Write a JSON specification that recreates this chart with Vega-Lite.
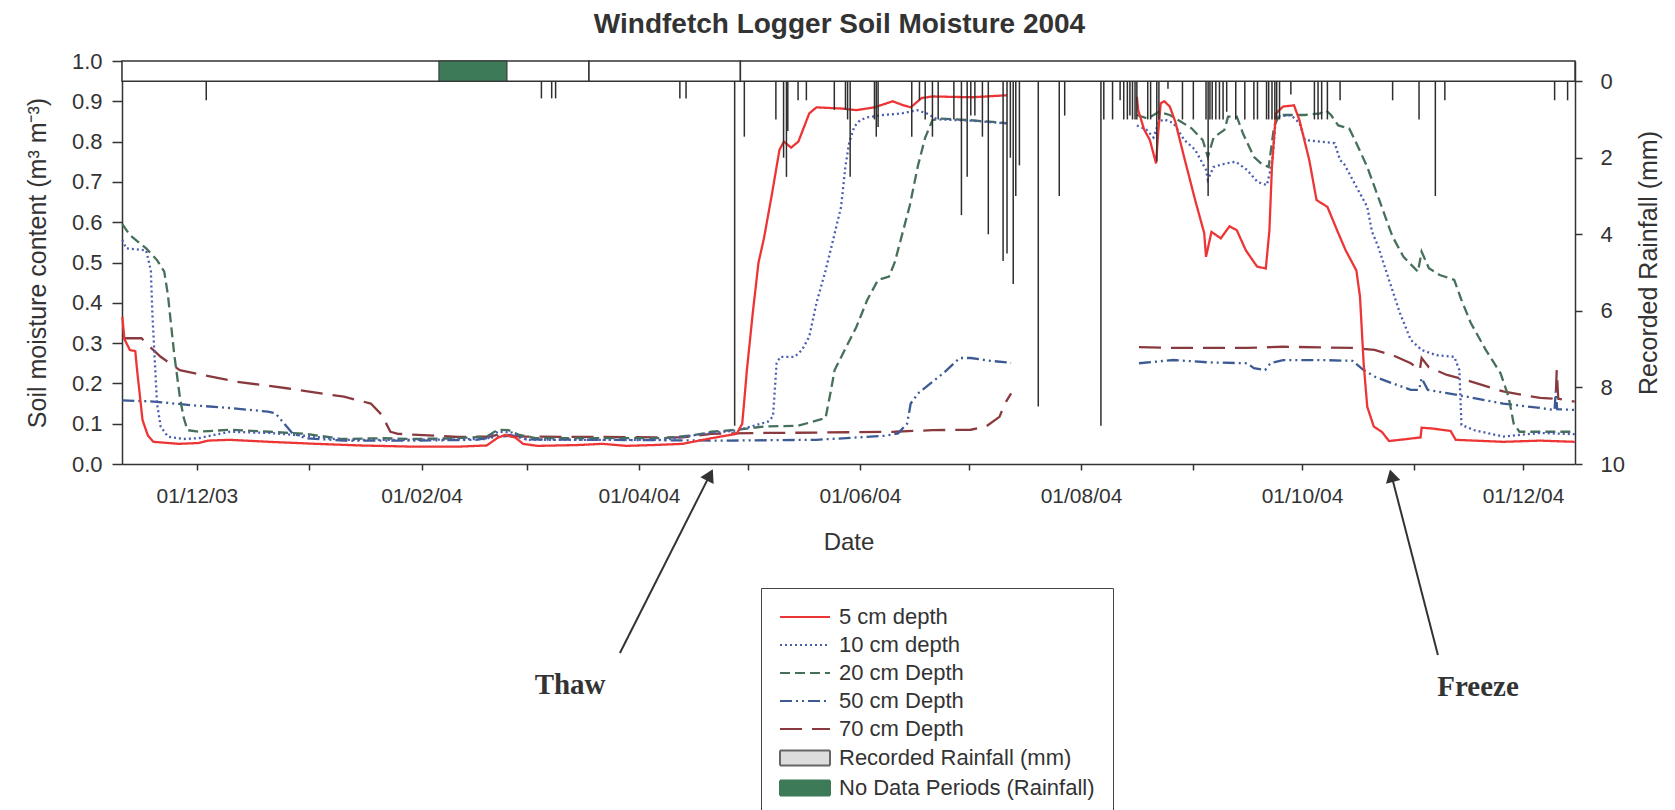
{
"$schema":"https://vega.github.io/schema/vega-lite/v6.json",
"width":1453,"height":403,
"autosize":{"type":"none"},
"padding":{"left":122,"top":61,"right":100,"bottom":346},
"background":"white",
"title":{"text":"Windfetch Logger Soil Moisture 2004","font":"Liberation Sans","fontSize":28,"fontWeight":"bold","color":"#333333","anchor":"middle","frame":"group","offset":11,"dx":-9},
"config":{"view":{"stroke":null},"axis":{"grid":false,"labelFont":"Liberation Sans","titleFont":"Liberation Sans","labelFontSize":22,"titleFontSize":25,"titleFontWeight":"normal","labelColor":"#333333","titleColor":"#333333","domainColor":"#333333","tickColor":"#333333","domainWidth":1.5,"tickWidth":1.5}},
"datasets":{
"strip":[{"start":"2003-11-10T08:00","end":"2004-03-18T05:00"},{"start":"2004-03-18T05:00","end":"2004-04-29T00:00"},{"start":"2004-04-29T00:00","end":"2004-12-15T08:00"}],
"nodata":[{"start":"2004-02-05T19:00","end":"2004-02-24T14:00"}],
"notes":[{"label":"Thaw","t0":"2004-03-26T18:00","v0":-0.469,"t1":"2004-04-20T14:00","v1":-0.027,"tt":"2004-03-13T00:00","tv":-0.548},{"label":"Freeze","t0":"2004-11-07T12:00","v0":-0.474,"t1":"2004-10-25T17:00","v1":-0.029,"tt":"2004-11-18T14:00","tv":-0.553}],
"rain":[
{"time":"2003-12-03T14:00","rain":0.5},{"time":"2004-03-05T02:00","rain":0.45},{"time":"2004-03-07T22:00","rain":0.45},{"time":"2004-03-09T00:00","rain":0.45},{"time":"2004-04-12T07:00","rain":0.45},{"time":"2004-04-14T00:00","rain":0.45},{"time":"2004-04-27T10:00","rain":9.0},{"time":"2004-04-30T02:00","rain":1.45},{"time":"2004-05-08T19:00","rain":1.0},{"time":"2004-05-10T22:00","rain":2.0},{"time":"2004-05-11T17:00","rain":2.5},{"time":"2004-05-12T02:00","rain":1.3},{"time":"2004-05-14T22:00","rain":0.5},{"time":"2004-05-17T05:00","rain":0.5},{"time":"2004-05-24T22:00","rain":0.75},{"time":"2004-05-28T00:00","rain":0.75},{"time":"2004-05-28T14:00","rain":1.0},{"time":"2004-05-29T07:00","rain":2.5},{"time":"2004-06-05T00:00","rain":1.0},{"time":"2004-06-05T12:00","rain":1.45},{"time":"2004-06-06T00:00","rain":1.2},{"time":"2004-06-15T07:00","rain":1.45},{"time":"2004-06-17T10:00","rain":0.5},{"time":"2004-06-19T00:00","rain":1.0},{"time":"2004-06-21T00:00","rain":1.45},{"time":"2004-06-22T14:00","rain":1.0},{"time":"2004-06-26T22:00","rain":1.0},{"time":"2004-06-29T00:00","rain":3.5},{"time":"2004-06-30T14:00","rain":2.5},{"time":"2004-07-01T14:00","rain":0.9},{"time":"2004-07-02T17:00","rain":0.9},{"time":"2004-07-04T19:00","rain":1.45},{"time":"2004-07-06T10:00","rain":4.0},{"time":"2004-07-10T12:00","rain":4.7},{"time":"2004-07-11T14:00","rain":4.5},{"time":"2004-07-12T12:00","rain":2.0},{"time":"2004-07-13T07:00","rain":5.3},{"time":"2004-07-14T00:00","rain":3.0},{"time":"2004-07-15T00:00","rain":2.2},{"time":"2004-07-20T05:00","rain":8.5},{"time":"2004-07-26T00:00","rain":3.0},{"time":"2004-07-27T12:00","rain":0.9},{"time":"2004-08-06T12:00","rain":9.0},{"time":"2004-08-07T07:00","rain":1.0},{"time":"2004-08-09T17:00","rain":1.0},{"time":"2004-08-11T19:00","rain":0.5},{"time":"2004-08-12T19:00","rain":1.0},{"time":"2004-08-13T19:00","rain":1.0},{"time":"2004-08-14T12:00","rain":0.9},{"time":"2004-08-15T05:00","rain":1.0},{"time":"2004-08-15T22:00","rain":1.0},{"time":"2004-08-16T10:00","rain":1.0},{"time":"2004-08-19T10:00","rain":1.0},{"time":"2004-08-20T05:00","rain":1.0},{"time":"2004-08-21T22:00","rain":2.1},{"time":"2004-08-22T12:00","rain":1.0},{"time":"2004-08-25T00:00","rain":0.2},{"time":"2004-08-29T00:00","rain":1.0},{"time":"2004-09-01T00:00","rain":1.0},{"time":"2004-09-04T12:00","rain":1.0},{"time":"2004-09-05T02:00","rain":3.0},{"time":"2004-09-05T14:00","rain":1.0},{"time":"2004-09-06T05:00","rain":1.0},{"time":"2004-09-07T05:00","rain":1.0},{"time":"2004-09-08T05:00","rain":1.0},{"time":"2004-09-09T05:00","rain":1.0},{"time":"2004-09-10T05:00","rain":0.8},{"time":"2004-09-12T17:00","rain":1.0},{"time":"2004-09-15T05:00","rain":1.0},{"time":"2004-09-17T17:00","rain":1.0},{"time":"2004-09-18T17:00","rain":1.0},{"time":"2004-09-21T05:00","rain":1.0},{"time":"2004-09-21T19:00","rain":1.0},{"time":"2004-09-22T17:00","rain":1.0},{"time":"2004-09-23T12:00","rain":1.0},{"time":"2004-09-24T00:00","rain":1.0},{"time":"2004-09-24T19:00","rain":1.0},{"time":"2004-09-27T22:00","rain":0.35},{"time":"2004-10-04T10:00","rain":1.0},{"time":"2004-10-05T10:00","rain":1.0},{"time":"2004-10-06T10:00","rain":1.0},{"time":"2004-10-08T00:00","rain":1.0},{"time":"2004-10-11T12:00","rain":0.5},{"time":"2004-10-26T00:00","rain":0.5},{"time":"2004-11-02T07:00","rain":1.0},{"time":"2004-11-06T19:00","rain":3.0},{"time":"2004-11-09T10:00","rain":0.5},{"time":"2004-12-09T17:00","rain":0.5},{"time":"2004-12-13T07:00","rain":0.5}],
"soil":[
{"depth":"70 cm Depth","seg":1,"time":"2003-11-10T10:00","moisture":0.312},{"depth":"70 cm Depth","seg":1,"time":"2003-11-15T17:00","moisture":0.312},{"depth":"70 cm Depth","seg":1,"time":"2003-11-18T00:00","moisture":0.291},{"depth":"70 cm Depth","seg":1,"time":"2003-11-21T00:00","moisture":0.266},{"depth":"70 cm Depth","seg":1,"time":"2003-11-26T07:00","moisture":0.233},{"depth":"70 cm Depth","seg":1,"time":"2003-12-02T14:00","moisture":0.221},{"depth":"70 cm Depth","seg":1,"time":"2003-12-12T00:00","moisture":0.204},{"depth":"70 cm Depth","seg":1,"time":"2003-12-25T19:00","moisture":0.188},{"depth":"70 cm Depth","seg":1,"time":"2004-01-10T14:00","moisture":0.167},{"depth":"70 cm Depth","seg":1,"time":"2004-01-18T00:00","moisture":0.15},{"depth":"70 cm Depth","seg":1,"time":"2004-01-21T00:00","moisture":0.122},{"depth":"70 cm Depth","seg":1,"time":"2004-01-23T10:00","moisture":0.08},{"depth":"70 cm Depth","seg":1,"time":"2004-01-25T12:00","moisture":0.075},{"depth":"70 cm Depth","seg":1,"time":"2004-02-11T00:00","moisture":0.067},{"depth":"70 cm Depth","seg":1,"time":"2004-02-20T00:00","moisture":0.068},{"depth":"70 cm Depth","seg":1,"time":"2004-02-23T00:00","moisture":0.075},{"depth":"70 cm Depth","seg":1,"time":"2004-02-28T00:00","moisture":0.068},{"depth":"70 cm Depth","seg":1,"time":"2004-03-21T00:00","moisture":0.067},{"depth":"70 cm Depth","seg":1,"time":"2004-04-13T00:00","moisture":0.066},{"depth":"70 cm Depth","seg":1,"time":"2004-04-21T00:00","moisture":0.075},{"depth":"70 cm Depth","seg":1,"time":"2004-05-05T12:00","moisture":0.077},{"depth":"70 cm Depth","seg":1,"time":"2004-05-20T00:00","moisture":0.078},{"depth":"70 cm Depth","seg":1,"time":"2004-06-10T12:00","moisture":0.08},{"depth":"70 cm Depth","seg":1,"time":"2004-06-21T00:00","moisture":0.084},{"depth":"70 cm Depth","seg":1,"time":"2004-07-01T14:00","moisture":0.085},{"depth":"70 cm Depth","seg":1,"time":"2004-07-05T19:00","moisture":0.093},{"depth":"70 cm Depth","seg":1,"time":"2004-07-09T12:00","moisture":0.117},{"depth":"70 cm Depth","seg":1,"time":"2004-07-11T00:00","moisture":0.15},{"depth":"70 cm Depth","seg":1,"time":"2004-07-12T17:00","moisture":0.175},
{"depth":"70 cm Depth","seg":2,"time":"2004-08-17T00:00","moisture":0.29},{"depth":"70 cm Depth","seg":2,"time":"2004-08-26T12:00","moisture":0.288},{"depth":"70 cm Depth","seg":2,"time":"2004-09-15T19:00","moisture":0.288},{"depth":"70 cm Depth","seg":2,"time":"2004-09-25T19:00","moisture":0.291},{"depth":"70 cm Depth","seg":2,"time":"2004-10-14T22:00","moisture":0.288},{"depth":"70 cm Depth","seg":2,"time":"2004-10-21T00:00","moisture":0.283},{"depth":"70 cm Depth","seg":2,"time":"2004-10-26T00:00","moisture":0.27},{"depth":"70 cm Depth","seg":2,"time":"2004-10-31T00:00","moisture":0.25},{"depth":"70 cm Depth","seg":2,"time":"2004-11-02T12:00","moisture":0.233},{"depth":"70 cm Depth","seg":2,"time":"2004-11-03T00:00","moisture":0.263},{"depth":"70 cm Depth","seg":2,"time":"2004-11-05T00:00","moisture":0.24},{"depth":"70 cm Depth","seg":2,"time":"2004-11-10T00:00","moisture":0.221},{"depth":"70 cm Depth","seg":2,"time":"2004-11-15T10:00","moisture":0.208},{"depth":"70 cm Depth","seg":2,"time":"2004-11-25T12:00","moisture":0.18},{"depth":"70 cm Depth","seg":2,"time":"2004-12-05T17:00","moisture":0.164},{"depth":"70 cm Depth","seg":2,"time":"2004-12-10T00:00","moisture":0.162},{"depth":"70 cm Depth","seg":2,"time":"2004-12-10T07:00","moisture":0.233},{"depth":"70 cm Depth","seg":2,"time":"2004-12-10T17:00","moisture":0.162},{"depth":"70 cm Depth","seg":2,"time":"2004-12-15T06:00","moisture":0.155},
{"depth":"50 cm Depth","seg":1,"time":"2003-11-10T10:00","moisture":0.158},{"depth":"50 cm Depth","seg":1,"time":"2003-11-19T00:00","moisture":0.155},{"depth":"50 cm Depth","seg":1,"time":"2003-11-29T10:00","moisture":0.146},{"depth":"50 cm Depth","seg":1,"time":"2003-12-10T00:00","moisture":0.139},{"depth":"50 cm Depth","seg":1,"time":"2003-12-20T14:00","moisture":0.13},{"depth":"50 cm Depth","seg":1,"time":"2003-12-22T17:00","moisture":0.126},{"depth":"50 cm Depth","seg":1,"time":"2003-12-25T00:00","moisture":0.101},{"depth":"50 cm Depth","seg":1,"time":"2003-12-27T10:00","moisture":0.076},{"depth":"50 cm Depth","seg":1,"time":"2003-12-31T00:00","moisture":0.064},{"depth":"50 cm Depth","seg":1,"time":"2004-01-10T14:00","moisture":0.058},{"depth":"50 cm Depth","seg":1,"time":"2004-01-31T00:00","moisture":0.058},{"depth":"50 cm Depth","seg":1,"time":"2004-02-16T00:00","moisture":0.06},{"depth":"50 cm Depth","seg":1,"time":"2004-02-22T00:00","moisture":0.068},{"depth":"50 cm Depth","seg":1,"time":"2004-02-26T00:00","moisture":0.07},{"depth":"50 cm Depth","seg":1,"time":"2004-03-01T00:00","moisture":0.061},{"depth":"50 cm Depth","seg":1,"time":"2004-03-21T00:00","moisture":0.06},{"depth":"50 cm Depth","seg":1,"time":"2004-04-24T00:00","moisture":0.058},{"depth":"50 cm Depth","seg":1,"time":"2004-05-20T00:00","moisture":0.06},{"depth":"50 cm Depth","seg":1,"time":"2004-06-08T00:00","moisture":0.07},{"depth":"50 cm Depth","seg":1,"time":"2004-06-11T12:00","moisture":0.076},{"depth":"50 cm Depth","seg":1,"time":"2004-06-14T00:00","moisture":0.1},{"depth":"50 cm Depth","seg":1,"time":"2004-06-15T00:00","moisture":0.15},{"depth":"50 cm Depth","seg":1,"time":"2004-06-17T00:00","moisture":0.175},{"depth":"50 cm Depth","seg":1,"time":"2004-06-21T00:00","moisture":0.204},{"depth":"50 cm Depth","seg":1,"time":"2004-06-24T00:00","moisture":0.225},{"depth":"50 cm Depth","seg":1,"time":"2004-06-28T12:00","moisture":0.263},{"depth":"50 cm Depth","seg":1,"time":"2004-07-01T14:00","moisture":0.263},{"depth":"50 cm Depth","seg":1,"time":"2004-07-07T00:00","moisture":0.256},{"depth":"50 cm Depth","seg":1,"time":"2004-07-12T17:00","moisture":0.251},
{"depth":"50 cm Depth","seg":2,"time":"2004-08-17T00:00","moisture":0.25},{"depth":"50 cm Depth","seg":2,"time":"2004-08-26T12:00","moisture":0.258},{"depth":"50 cm Depth","seg":2,"time":"2004-09-05T14:00","moisture":0.252},{"depth":"50 cm Depth","seg":2,"time":"2004-09-15T19:00","moisture":0.25},{"depth":"50 cm Depth","seg":2,"time":"2004-09-17T17:00","moisture":0.238},{"depth":"50 cm Depth","seg":2,"time":"2004-09-20T19:00","moisture":0.233},{"depth":"50 cm Depth","seg":2,"time":"2004-09-22T07:00","moisture":0.25},{"depth":"50 cm Depth","seg":2,"time":"2004-09-25T19:00","moisture":0.258},{"depth":"50 cm Depth","seg":2,"time":"2004-10-06T00:00","moisture":0.258},{"depth":"50 cm Depth","seg":2,"time":"2004-10-14T22:00","moisture":0.256},{"depth":"50 cm Depth","seg":2,"time":"2004-10-18T00:00","moisture":0.233},{"depth":"50 cm Depth","seg":2,"time":"2004-10-21T00:00","moisture":0.217},{"depth":"50 cm Depth","seg":2,"time":"2004-10-26T00:00","moisture":0.2},{"depth":"50 cm Depth","seg":2,"time":"2004-10-31T00:00","moisture":0.184},{"depth":"50 cm Depth","seg":2,"time":"2004-11-02T07:00","moisture":0.184},{"depth":"50 cm Depth","seg":2,"time":"2004-11-03T00:00","moisture":0.213},{"depth":"50 cm Depth","seg":2,"time":"2004-11-04T17:00","moisture":0.184},{"depth":"50 cm Depth","seg":2,"time":"2004-11-10T00:00","moisture":0.176},{"depth":"50 cm Depth","seg":2,"time":"2004-11-15T10:00","moisture":0.167},{"depth":"50 cm Depth","seg":2,"time":"2004-11-25T12:00","moisture":0.15},{"depth":"50 cm Depth","seg":2,"time":"2004-12-05T17:00","moisture":0.139},{"depth":"50 cm Depth","seg":2,"time":"2004-12-09T17:00","moisture":0.134},{"depth":"50 cm Depth","seg":2,"time":"2004-12-10T00:00","moisture":0.18},{"depth":"50 cm Depth","seg":2,"time":"2004-12-10T10:00","moisture":0.136},{"depth":"50 cm Depth","seg":2,"time":"2004-12-15T06:00","moisture":0.134},
{"depth":"20 cm Depth","seg":1,"time":"2003-11-10T10:00","moisture":0.595},{"depth":"20 cm Depth","seg":1,"time":"2003-11-12T12:00","moisture":0.568},{"depth":"20 cm Depth","seg":1,"time":"2003-11-17T00:00","moisture":0.535},{"depth":"20 cm Depth","seg":1,"time":"2003-11-20T00:00","moisture":0.506},{"depth":"20 cm Depth","seg":1,"time":"2003-11-22T00:00","moisture":0.477},{"depth":"20 cm Depth","seg":1,"time":"2003-11-23T00:00","moisture":0.42},{"depth":"20 cm Depth","seg":1,"time":"2003-11-24T17:00","moisture":0.275},{"depth":"20 cm Depth","seg":1,"time":"2003-11-26T07:00","moisture":0.167},{"depth":"20 cm Depth","seg":1,"time":"2003-11-27T07:00","moisture":0.117},{"depth":"20 cm Depth","seg":1,"time":"2003-11-28T10:00","moisture":0.084},{"depth":"20 cm Depth","seg":1,"time":"2003-12-01T12:00","moisture":0.08},{"depth":"20 cm Depth","seg":1,"time":"2003-12-10T00:00","moisture":0.085},{"depth":"20 cm Depth","seg":1,"time":"2003-12-21T00:00","moisture":0.08},{"depth":"20 cm Depth","seg":1,"time":"2003-12-31T00:00","moisture":0.075},{"depth":"20 cm Depth","seg":1,"time":"2004-01-10T00:00","moisture":0.062},{"depth":"20 cm Depth","seg":1,"time":"2004-01-21T00:00","moisture":0.064},{"depth":"20 cm Depth","seg":1,"time":"2004-01-30T00:00","moisture":0.062},{"depth":"20 cm Depth","seg":1,"time":"2004-02-11T00:00","moisture":0.064},{"depth":"20 cm Depth","seg":1,"time":"2004-02-19T00:00","moisture":0.068},{"depth":"20 cm Depth","seg":1,"time":"2004-02-22T00:00","moisture":0.085},{"depth":"20 cm Depth","seg":1,"time":"2004-02-25T00:00","moisture":0.084},{"depth":"20 cm Depth","seg":1,"time":"2004-02-28T00:00","moisture":0.072},{"depth":"20 cm Depth","seg":1,"time":"2004-03-03T12:00","moisture":0.064},{"depth":"20 cm Depth","seg":1,"time":"2004-03-21T00:00","moisture":0.064},{"depth":"20 cm Depth","seg":1,"time":"2004-04-08T00:00","moisture":0.064},{"depth":"20 cm Depth","seg":1,"time":"2004-04-16T12:00","moisture":0.072},{"depth":"20 cm Depth","seg":1,"time":"2004-04-21T00:00","moisture":0.08},{"depth":"20 cm Depth","seg":1,"time":"2004-04-28T00:00","moisture":0.085},{"depth":"20 cm Depth","seg":1,"time":"2004-05-05T12:00","moisture":0.093},{"depth":"20 cm Depth","seg":1,"time":"2004-05-15T00:00","moisture":0.095},{"depth":"20 cm Depth","seg":1,"time":"2004-05-22T12:00","moisture":0.114},{"depth":"20 cm Depth","seg":1,"time":"2004-05-24T00:00","moisture":0.183},{"depth":"20 cm Depth","seg":1,"time":"2004-05-25T00:00","moisture":0.233},{"depth":"20 cm Depth","seg":1,"time":"2004-05-27T19:00","moisture":0.283},{"depth":"20 cm Depth","seg":1,"time":"2004-05-31T00:00","moisture":0.34},{"depth":"20 cm Depth","seg":1,"time":"2004-06-03T00:00","moisture":0.407},{"depth":"20 cm Depth","seg":1,"time":"2004-06-06T00:00","moisture":0.457},{"depth":"20 cm Depth","seg":1,"time":"2004-06-09T00:00","moisture":0.465},{"depth":"20 cm Depth","seg":1,"time":"2004-06-10T14:00","moisture":0.5},{"depth":"20 cm Depth","seg":1,"time":"2004-06-12T00:00","moisture":0.548},{"depth":"20 cm Depth","seg":1,"time":"2004-06-14T17:00","moisture":0.64},{"depth":"20 cm Depth","seg":1,"time":"2004-06-17T00:00","moisture":0.74},{"depth":"20 cm Depth","seg":1,"time":"2004-06-19T00:00","moisture":0.81},{"depth":"20 cm Depth","seg":1,"time":"2004-06-21T00:00","moisture":0.853},{"depth":"20 cm Depth","seg":1,"time":"2004-06-23T00:00","moisture":0.857},{"depth":"20 cm Depth","seg":1,"time":"2004-07-01T14:00","moisture":0.853},{"depth":"20 cm Depth","seg":1,"time":"2004-07-11T14:00","moisture":0.846},
{"depth":"20 cm Depth","seg":2,"time":"2004-08-16T10:00","moisture":0.866},{"depth":"20 cm Depth","seg":2,"time":"2004-08-19T10:00","moisture":0.857},{"depth":"20 cm Depth","seg":2,"time":"2004-08-22T12:00","moisture":0.874},{"depth":"20 cm Depth","seg":2,"time":"2004-08-25T12:00","moisture":0.866},{"depth":"20 cm Depth","seg":2,"time":"2004-08-28T12:00","moisture":0.85},{"depth":"20 cm Depth","seg":2,"time":"2004-08-31T12:00","moisture":0.833},{"depth":"20 cm Depth","seg":2,"time":"2004-09-03T14:00","moisture":0.804},{"depth":"20 cm Depth","seg":2,"time":"2004-09-05T00:00","moisture":0.762},{"depth":"20 cm Depth","seg":2,"time":"2004-09-06T14:00","moisture":0.81},{"depth":"20 cm Depth","seg":2,"time":"2004-09-09T14:00","moisture":0.829},{"depth":"20 cm Depth","seg":2,"time":"2004-09-10T14:00","moisture":0.862},{"depth":"20 cm Depth","seg":2,"time":"2004-09-13T00:00","moisture":0.862},{"depth":"20 cm Depth","seg":2,"time":"2004-09-14T17:00","moisture":0.82},{"depth":"20 cm Depth","seg":2,"time":"2004-09-17T17:00","moisture":0.762},{"depth":"20 cm Depth","seg":2,"time":"2004-09-19T19:00","moisture":0.745},{"depth":"20 cm Depth","seg":2,"time":"2004-09-21T19:00","moisture":0.737},{"depth":"20 cm Depth","seg":2,"time":"2004-09-23T07:00","moisture":0.838},{"depth":"20 cm Depth","seg":2,"time":"2004-09-24T19:00","moisture":0.866},{"depth":"20 cm Depth","seg":2,"time":"2004-10-01T19:00","moisture":0.866},{"depth":"20 cm Depth","seg":2,"time":"2004-10-06T00:00","moisture":0.87},{"depth":"20 cm Depth","seg":2,"time":"2004-10-07T12:00","moisture":0.878},{"depth":"20 cm Depth","seg":2,"time":"2004-10-09T00:00","moisture":0.866},{"depth":"20 cm Depth","seg":2,"time":"2004-10-11T00:00","moisture":0.84},{"depth":"20 cm Depth","seg":2,"time":"2004-10-14T00:00","moisture":0.833},{"depth":"20 cm Depth","seg":2,"time":"2004-10-16T00:00","moisture":0.796},{"depth":"20 cm Depth","seg":2,"time":"2004-10-19T00:00","moisture":0.737},{"depth":"20 cm Depth","seg":2,"time":"2004-10-22T00:00","moisture":0.663},{"depth":"20 cm Depth","seg":2,"time":"2004-10-25T00:00","moisture":0.588},{"depth":"20 cm Depth","seg":2,"time":"2004-10-26T00:00","moisture":0.564},{"depth":"20 cm Depth","seg":2,"time":"2004-10-29T00:00","moisture":0.514},{"depth":"20 cm Depth","seg":2,"time":"2004-11-02T00:00","moisture":0.477},{"depth":"20 cm Depth","seg":2,"time":"2004-11-03T00:00","moisture":0.527},{"depth":"20 cm Depth","seg":2,"time":"2004-11-05T00:00","moisture":0.486},{"depth":"20 cm Depth","seg":2,"time":"2004-11-08T00:00","moisture":0.469},{"depth":"20 cm Depth","seg":2,"time":"2004-11-12T00:00","moisture":0.457},{"depth":"20 cm Depth","seg":2,"time":"2004-11-14T00:00","moisture":0.407},{"depth":"20 cm Depth","seg":2,"time":"2004-11-16T14:00","moisture":0.35},{"depth":"20 cm Depth","seg":2,"time":"2004-11-20T17:00","moisture":0.283},{"depth":"20 cm Depth","seg":2,"time":"2004-11-24T19:00","moisture":0.225},{"depth":"20 cm Depth","seg":2,"time":"2004-11-27T00:00","moisture":0.167},{"depth":"20 cm Depth","seg":2,"time":"2004-11-28T10:00","moisture":0.1},{"depth":"20 cm Depth","seg":2,"time":"2004-11-30T00:00","moisture":0.08},{"depth":"20 cm Depth","seg":2,"time":"2004-12-06T00:00","moisture":0.08},{"depth":"20 cm Depth","seg":2,"time":"2004-12-15T06:00","moisture":0.08},
{"depth":"10 cm depth","seg":1,"time":"2003-11-10T10:00","moisture":0.556},{"depth":"10 cm depth","seg":1,"time":"2003-11-11T12:00","moisture":0.535},{"depth":"10 cm depth","seg":1,"time":"2003-11-17T00:00","moisture":0.53},{"depth":"10 cm depth","seg":1,"time":"2003-11-18T07:00","moisture":0.48},{"depth":"10 cm depth","seg":1,"time":"2003-11-18T17:00","moisture":0.375},{"depth":"10 cm depth","seg":1,"time":"2003-11-19T10:00","moisture":0.25},{"depth":"10 cm depth","seg":1,"time":"2003-11-20T00:00","moisture":0.15},{"depth":"10 cm depth","seg":1,"time":"2003-11-21T00:00","moisture":0.093},{"depth":"10 cm depth","seg":1,"time":"2003-11-23T00:00","moisture":0.068},{"depth":"10 cm depth","seg":1,"time":"2003-11-27T10:00","moisture":0.062},{"depth":"10 cm depth","seg":1,"time":"2003-12-01T12:00","moisture":0.064},{"depth":"10 cm depth","seg":1,"time":"2003-12-10T00:00","moisture":0.08},{"depth":"10 cm depth","seg":1,"time":"2003-12-21T00:00","moisture":0.077},{"depth":"10 cm depth","seg":1,"time":"2003-12-31T00:00","moisture":0.07},{"depth":"10 cm depth","seg":1,"time":"2004-01-10T00:00","moisture":0.06},{"depth":"10 cm depth","seg":1,"time":"2004-01-30T00:00","moisture":0.06},{"depth":"10 cm depth","seg":1,"time":"2004-02-19T00:00","moisture":0.062},{"depth":"10 cm depth","seg":1,"time":"2004-02-22T00:00","moisture":0.08},{"depth":"10 cm depth","seg":1,"time":"2004-02-26T00:00","moisture":0.078},{"depth":"10 cm depth","seg":1,"time":"2004-03-01T00:00","moisture":0.06},{"depth":"10 cm depth","seg":1,"time":"2004-03-20T00:00","moisture":0.06},{"depth":"10 cm depth","seg":1,"time":"2004-04-08T00:00","moisture":0.06},{"depth":"10 cm depth","seg":1,"time":"2004-04-18T17:00","moisture":0.075},{"depth":"10 cm depth","seg":1,"time":"2004-04-28T00:00","moisture":0.083},{"depth":"10 cm depth","seg":1,"time":"2004-05-06T14:00","moisture":0.105},{"depth":"10 cm depth","seg":1,"time":"2004-05-08T00:00","moisture":0.118},{"depth":"10 cm depth","seg":1,"time":"2004-05-09T00:00","moisture":0.25},{"depth":"10 cm depth","seg":1,"time":"2004-05-10T00:00","moisture":0.266},{"depth":"10 cm depth","seg":1,"time":"2004-05-14T00:00","moisture":0.266},{"depth":"10 cm depth","seg":1,"time":"2004-05-16T00:00","moisture":0.283},{"depth":"10 cm depth","seg":1,"time":"2004-05-18T00:00","moisture":0.316},{"depth":"10 cm depth","seg":1,"time":"2004-05-20T00:00","moisture":0.4},{"depth":"10 cm depth","seg":1,"time":"2004-05-22T12:00","moisture":0.48},{"depth":"10 cm depth","seg":1,"time":"2004-05-24T14:00","moisture":0.556},{"depth":"10 cm depth","seg":1,"time":"2004-05-26T19:00","moisture":0.638},{"depth":"10 cm depth","seg":1,"time":"2004-05-28T00:00","moisture":0.74},{"depth":"10 cm depth","seg":1,"time":"2004-05-29T00:00","moisture":0.796},{"depth":"10 cm depth","seg":1,"time":"2004-05-30T10:00","moisture":0.837},{"depth":"10 cm depth","seg":1,"time":"2004-06-01T00:00","moisture":0.853},{"depth":"10 cm depth","seg":1,"time":"2004-06-03T00:00","moisture":0.86},{"depth":"10 cm depth","seg":1,"time":"2004-06-07T10:00","moisture":0.866},{"depth":"10 cm depth","seg":1,"time":"2004-06-12T14:00","moisture":0.87},{"depth":"10 cm depth","seg":1,"time":"2004-06-16T19:00","moisture":0.878},{"depth":"10 cm depth","seg":1,"time":"2004-06-20T00:00","moisture":0.868},{"depth":"10 cm depth","seg":1,"time":"2004-06-21T14:00","moisture":0.858},{"depth":"10 cm depth","seg":1,"time":"2004-06-23T00:00","moisture":0.855},{"depth":"10 cm depth","seg":1,"time":"2004-07-02T00:00","moisture":0.852},{"depth":"10 cm depth","seg":1,"time":"2004-07-11T14:00","moisture":0.845},
{"depth":"10 cm depth","seg":2,"time":"2004-08-16T10:00","moisture":0.84},{"depth":"10 cm depth","seg":2,"time":"2004-08-19T00:00","moisture":0.83},{"depth":"10 cm depth","seg":2,"time":"2004-08-21T00:00","moisture":0.81},{"depth":"10 cm depth","seg":2,"time":"2004-08-22T12:00","moisture":0.85},{"depth":"10 cm depth","seg":2,"time":"2004-08-24T00:00","moisture":0.855},{"depth":"10 cm depth","seg":2,"time":"2004-08-26T12:00","moisture":0.846},{"depth":"10 cm depth","seg":2,"time":"2004-08-29T12:00","moisture":0.804},{"depth":"10 cm depth","seg":2,"time":"2004-09-01T12:00","moisture":0.78},{"depth":"10 cm depth","seg":2,"time":"2004-09-04T12:00","moisture":0.73},{"depth":"10 cm depth","seg":2,"time":"2004-09-05T00:00","moisture":0.705},{"depth":"10 cm depth","seg":2,"time":"2004-09-06T14:00","moisture":0.737},{"depth":"10 cm depth","seg":2,"time":"2004-09-09T14:00","moisture":0.745},{"depth":"10 cm depth","seg":2,"time":"2004-09-12T17:00","moisture":0.75},{"depth":"10 cm depth","seg":2,"time":"2004-09-15T19:00","moisture":0.73},{"depth":"10 cm depth","seg":2,"time":"2004-09-18T17:00","moisture":0.7},{"depth":"10 cm depth","seg":2,"time":"2004-09-21T07:00","moisture":0.692},{"depth":"10 cm depth","seg":2,"time":"2004-09-22T19:00","moisture":0.75},{"depth":"10 cm depth","seg":2,"time":"2004-09-23T19:00","moisture":0.862},{"depth":"10 cm depth","seg":2,"time":"2004-09-27T22:00","moisture":0.866},{"depth":"10 cm depth","seg":2,"time":"2004-09-30T07:00","moisture":0.846},{"depth":"10 cm depth","seg":2,"time":"2004-10-01T19:00","moisture":0.804},{"depth":"10 cm depth","seg":2,"time":"2004-10-06T00:00","moisture":0.8},{"depth":"10 cm depth","seg":2,"time":"2004-10-10T00:00","moisture":0.796},{"depth":"10 cm depth","seg":2,"time":"2004-10-11T12:00","moisture":0.754},{"depth":"10 cm depth","seg":2,"time":"2004-10-12T14:00","moisture":0.745},{"depth":"10 cm depth","seg":2,"time":"2004-10-16T00:00","moisture":0.688},{"depth":"10 cm depth","seg":2,"time":"2004-10-19T00:00","moisture":0.638},{"depth":"10 cm depth","seg":2,"time":"2004-10-20T07:00","moisture":0.577},{"depth":"10 cm depth","seg":2,"time":"2004-10-22T00:00","moisture":0.54},{"depth":"10 cm depth","seg":2,"time":"2004-10-25T00:00","moisture":0.457},{"depth":"10 cm depth","seg":2,"time":"2004-10-28T00:00","moisture":0.375},{"depth":"10 cm depth","seg":2,"time":"2004-10-31T00:00","moisture":0.308},{"depth":"10 cm depth","seg":2,"time":"2004-11-03T00:00","moisture":0.283},{"depth":"10 cm depth","seg":2,"time":"2004-11-07T00:00","moisture":0.27},{"depth":"10 cm depth","seg":2,"time":"2004-11-12T00:00","moisture":0.266},{"depth":"10 cm depth","seg":2,"time":"2004-11-13T10:00","moisture":0.233},{"depth":"10 cm depth","seg":2,"time":"2004-11-14T00:00","moisture":0.097},{"depth":"10 cm depth","seg":2,"time":"2004-11-17T12:00","moisture":0.084},{"depth":"10 cm depth","seg":2,"time":"2004-11-25T12:00","moisture":0.068},{"depth":"10 cm depth","seg":2,"time":"2004-12-05T17:00","moisture":0.077},{"depth":"10 cm depth","seg":2,"time":"2004-12-15T06:00","moisture":0.074},
{"depth":"5 cm depth","seg":1,"time":"2003-11-10T10:00","moisture":0.365},{"depth":"5 cm depth","seg":1,"time":"2003-11-11T00:00","moisture":0.31},{"depth":"5 cm depth","seg":1,"time":"2003-11-12T12:00","moisture":0.283},{"depth":"5 cm depth","seg":1,"time":"2003-11-14T00:00","moisture":0.28},{"depth":"5 cm depth","seg":1,"time":"2003-11-14T12:00","moisture":0.233},{"depth":"5 cm depth","seg":1,"time":"2003-11-16T00:00","moisture":0.109},{"depth":"5 cm depth","seg":1,"time":"2003-11-17T12:00","moisture":0.07},{"depth":"5 cm depth","seg":1,"time":"2003-11-19T00:00","moisture":0.055},{"depth":"5 cm depth","seg":1,"time":"2003-11-26T00:00","moisture":0.05},{"depth":"5 cm depth","seg":1,"time":"2003-12-01T12:00","moisture":0.052},{"depth":"5 cm depth","seg":1,"time":"2003-12-04T00:00","moisture":0.058},{"depth":"5 cm depth","seg":1,"time":"2003-12-10T00:00","moisture":0.06},{"depth":"5 cm depth","seg":1,"time":"2003-12-21T00:00","moisture":0.055},{"depth":"5 cm depth","seg":1,"time":"2004-01-03T00:00","moisture":0.05},{"depth":"5 cm depth","seg":1,"time":"2004-01-15T00:00","moisture":0.046},{"depth":"5 cm depth","seg":1,"time":"2004-01-30T00:00","moisture":0.043},{"depth":"5 cm depth","seg":1,"time":"2004-02-11T00:00","moisture":0.043},{"depth":"5 cm depth","seg":1,"time":"2004-02-19T00:00","moisture":0.046},{"depth":"5 cm depth","seg":1,"time":"2004-02-22T00:00","moisture":0.065},{"depth":"5 cm depth","seg":1,"time":"2004-02-24T00:00","moisture":0.072},{"depth":"5 cm depth","seg":1,"time":"2004-02-27T00:00","moisture":0.065},{"depth":"5 cm depth","seg":1,"time":"2004-02-29T00:00","moisture":0.05},{"depth":"5 cm depth","seg":1,"time":"2004-03-04T00:00","moisture":0.045},{"depth":"5 cm depth","seg":1,"time":"2004-03-15T00:00","moisture":0.047},{"depth":"5 cm depth","seg":1,"time":"2004-03-22T00:00","moisture":0.05},{"depth":"5 cm depth","seg":1,"time":"2004-03-28T12:00","moisture":0.045},{"depth":"5 cm depth","seg":1,"time":"2004-04-05T00:00","moisture":0.047},{"depth":"5 cm depth","seg":1,"time":"2004-04-13T00:00","moisture":0.05},{"depth":"5 cm depth","seg":1,"time":"2004-04-21T00:00","moisture":0.064},{"depth":"5 cm depth","seg":1,"time":"2004-04-28T00:00","moisture":0.075},{"depth":"5 cm depth","seg":1,"time":"2004-04-29T12:00","moisture":0.1},{"depth":"5 cm depth","seg":1,"time":"2004-04-30T00:00","moisture":0.15},{"depth":"5 cm depth","seg":1,"time":"2004-04-30T19:00","moisture":0.233},{"depth":"5 cm depth","seg":1,"time":"2004-05-02T10:00","moisture":0.375},{"depth":"5 cm depth","seg":1,"time":"2004-05-04T00:00","moisture":0.5},{"depth":"5 cm depth","seg":1,"time":"2004-05-05T12:00","moisture":0.56},{"depth":"5 cm depth","seg":1,"time":"2004-05-07T17:00","moisture":0.67},{"depth":"5 cm depth","seg":1,"time":"2004-05-09T19:00","moisture":0.78},{"depth":"5 cm depth","seg":1,"time":"2004-05-11T00:00","moisture":0.8},{"depth":"5 cm depth","seg":1,"time":"2004-05-13T00:00","moisture":0.785},{"depth":"5 cm depth","seg":1,"time":"2004-05-15T00:00","moisture":0.8},{"depth":"5 cm depth","seg":1,"time":"2004-05-18T00:00","moisture":0.87},{"depth":"5 cm depth","seg":1,"time":"2004-05-20T00:00","moisture":0.885},{"depth":"5 cm depth","seg":1,"time":"2004-05-27T00:00","moisture":0.882},{"depth":"5 cm depth","seg":1,"time":"2004-05-31T00:00","moisture":0.878},{"depth":"5 cm depth","seg":1,"time":"2004-06-05T00:00","moisture":0.885},{"depth":"5 cm depth","seg":1,"time":"2004-06-10T00:00","moisture":0.9},{"depth":"5 cm depth","seg":1,"time":"2004-06-13T00:00","moisture":0.89},{"depth":"5 cm depth","seg":1,"time":"2004-06-15T00:00","moisture":0.885},{"depth":"5 cm depth","seg":1,"time":"2004-06-18T00:00","moisture":0.908},{"depth":"5 cm depth","seg":1,"time":"2004-06-21T00:00","moisture":0.912},{"depth":"5 cm depth","seg":1,"time":"2004-07-02T00:00","moisture":0.91},{"depth":"5 cm depth","seg":1,"time":"2004-07-11T14:00","moisture":0.915},
{"depth":"5 cm depth","seg":2,"time":"2004-08-16T10:00","moisture":0.911},{"depth":"5 cm depth","seg":2,"time":"2004-08-16T19:00","moisture":0.878},{"depth":"5 cm depth","seg":2,"time":"2004-08-18T10:00","moisture":0.83},{"depth":"5 cm depth","seg":2,"time":"2004-08-20T00:00","moisture":0.804},{"depth":"5 cm depth","seg":2,"time":"2004-08-21T17:00","moisture":0.746},{"depth":"5 cm depth","seg":2,"time":"2004-08-22T07:00","moisture":0.82},{"depth":"5 cm depth","seg":2,"time":"2004-08-23T00:00","moisture":0.895},{"depth":"5 cm depth","seg":2,"time":"2004-08-24T00:00","moisture":0.9},{"depth":"5 cm depth","seg":2,"time":"2004-08-25T12:00","moisture":0.887},{"depth":"5 cm depth","seg":2,"time":"2004-08-27T00:00","moisture":0.85},{"depth":"5 cm depth","seg":2,"time":"2004-08-29T12:00","moisture":0.76},{"depth":"5 cm depth","seg":2,"time":"2004-09-01T12:00","moisture":0.655},{"depth":"5 cm depth","seg":2,"time":"2004-09-04T00:00","moisture":0.573},{"depth":"5 cm depth","seg":2,"time":"2004-09-04T12:00","moisture":0.514},{"depth":"5 cm depth","seg":2,"time":"2004-09-06T00:00","moisture":0.576},{"depth":"5 cm depth","seg":2,"time":"2004-09-08T14:00","moisture":0.56},{"depth":"5 cm depth","seg":2,"time":"2004-09-11T00:00","moisture":0.59},{"depth":"5 cm depth","seg":2,"time":"2004-09-13T00:00","moisture":0.58},{"depth":"5 cm depth","seg":2,"time":"2004-09-15T12:00","moisture":0.53},{"depth":"5 cm depth","seg":2,"time":"2004-09-18T14:00","moisture":0.49},{"depth":"5 cm depth","seg":2,"time":"2004-09-21T00:00","moisture":0.485},{"depth":"5 cm depth","seg":2,"time":"2004-09-22T00:00","moisture":0.58},{"depth":"5 cm depth","seg":2,"time":"2004-09-22T17:00","moisture":0.74},{"depth":"5 cm depth","seg":2,"time":"2004-09-23T19:00","moisture":0.87},{"depth":"5 cm depth","seg":2,"time":"2004-09-25T19:00","moisture":0.887},{"depth":"5 cm depth","seg":2,"time":"2004-09-28T19:00","moisture":0.89},{"depth":"5 cm depth","seg":2,"time":"2004-09-30T07:00","moisture":0.853},{"depth":"5 cm depth","seg":2,"time":"2004-10-03T00:00","moisture":0.754},{"depth":"5 cm depth","seg":2,"time":"2004-10-05T00:00","moisture":0.655},{"depth":"5 cm depth","seg":2,"time":"2004-10-08T00:00","moisture":0.638},{"depth":"5 cm depth","seg":2,"time":"2004-10-11T00:00","moisture":0.573},{"depth":"5 cm depth","seg":2,"time":"2004-10-13T00:00","moisture":0.531},{"depth":"5 cm depth","seg":2,"time":"2004-10-16T00:00","moisture":0.48},{"depth":"5 cm depth","seg":2,"time":"2004-10-17T00:00","moisture":0.415},{"depth":"5 cm depth","seg":2,"time":"2004-10-18T00:00","moisture":0.25},{"depth":"5 cm depth","seg":2,"time":"2004-10-19T00:00","moisture":0.142},{"depth":"5 cm depth","seg":2,"time":"2004-10-20T19:00","moisture":0.093},{"depth":"5 cm depth","seg":2,"time":"2004-10-23T00:00","moisture":0.08},{"depth":"5 cm depth","seg":2,"time":"2004-10-25T00:00","moisture":0.057},{"depth":"5 cm depth","seg":2,"time":"2004-10-30T00:00","moisture":0.062},{"depth":"5 cm depth","seg":2,"time":"2004-11-02T17:00","moisture":0.066},{"depth":"5 cm depth","seg":2,"time":"2004-11-03T00:00","moisture":0.09},{"depth":"5 cm depth","seg":2,"time":"2004-11-06T00:00","moisture":0.088},{"depth":"5 cm depth","seg":2,"time":"2004-11-11T00:00","moisture":0.082},{"depth":"5 cm depth","seg":2,"time":"2004-11-12T10:00","moisture":0.06},{"depth":"5 cm depth","seg":2,"time":"2004-11-25T12:00","moisture":0.055},{"depth":"5 cm depth","seg":2,"time":"2004-12-05T17:00","moisture":0.058},{"depth":"5 cm depth","seg":2,"time":"2004-12-15T06:00","moisture":0.055}]
},
"layer":[
{"layer":[
 {"data":{"name":"strip"},"mark":{"type":"rect","fill":"white","stroke":"#333333","strokeWidth":1.5},
  "encoding":{"x":{"field":"start","type":"temporal","scale":{"domain":[{"year":2003,"month":11,"date":10,"hours":8},{"year":2004,"month":12,"date":15,"hours":8}]}},"x2":{"field":"end"},
   "y":{"datum":0.95,"type":"quantitative","scale":{"domain":[0,1],"nice":false,"zero":false}},"y2":{"datum":1}}},
 {"data":{"name":"nodata"},"mark":{"type":"rect","fill":"#3d7a57","stroke":"#333333","strokeWidth":1},
  "encoding":{"x":{"field":"start","type":"temporal"},"x2":{"field":"end"},
   "y":{"datum":0.95,"type":"quantitative"},"y2":{"datum":1}}},
 {"data":{"name":"soil"},"mark":{"type":"line","strokeWidth":2.3},
  "encoding":{
   "x":{"field":"time","type":"temporal","scale":{"domain":[{"year":2003,"month":11,"date":10,"hours":8},{"year":2004,"month":12,"date":15,"hours":8}]},
     "axis":{"title":"Date","titleFontSize":24,"labelFontSize":21,"values":[{"year":2003,"month":12,"date":1},{"year":2004,"month":1,"date":1},{"year":2004,"month":2,"date":1},{"year":2004,"month":3,"date":1},{"year":2004,"month":4,"date":1},{"year":2004,"month":5,"date":1},{"year":2004,"month":6,"date":1},{"year":2004,"month":7,"date":1},{"year":2004,"month":8,"date":1},{"year":2004,"month":9,"date":1},{"year":2004,"month":10,"date":1},{"year":2004,"month":11,"date":1},{"year":2004,"month":12,"date":1}],
      "format":"%d/%m/%y","labelExpr":"month(datum.value) % 2 == 1 ? datum.label : ''","tickSize":6,"labelPadding":15,"titlePadding":24,"labelFlush":false,"labelOverlap":false}},
   "y":{"field":"moisture","type":"quantitative","scale":{"domain":[0,1],"nice":false,"zero":false},
     "axis":{"title":"Soil moisture content (m³ m⁻³)","values":[0,0.1,0.2,0.3,0.4,0.5,0.6,0.7,0.8,0.9,1.0],"format":".1f","tickSize":10,"labelPadding":10,"titlePadding":21,"labelFlush":false,"labelOverlap":false}},
   "color":{"field":"depth","type":"nominal",
     "scale":{"domain":["5 cm depth","10 cm depth","20 cm Depth","50 cm Depth","70 cm Depth","Recorded Rainfall (mm)","No Data Periods (Rainfall)"],"range":["#ee3535","#4a5cb0","#46705a","#3c5a94","#8a3a3e","#666666","#3d7a57"]},
     "legend":{"title":null,"orient":"none","legendX":639,"legendY":527,"direction":"vertical","strokeColor":"#444444","padding":18,"symbolSize":400,"symbolStrokeWidth":2,"symbolOffset":15,"labelFont":"Liberation Sans","labelFontSize":22,"labelColor":"#333333","labelOffset":23,"rowPadding":6,"labelLimit":400,
      "encode":{"symbols":{"update":{"shape":{"signal":"indexof(['Recorded Rainfall (mm)','No Data Periods (Rainfall)'], datum.value) >= 0 ? 'M-2.5,-0.75H2.5V0.75H-2.5Z' : 'M-2.5,0H2.5'"},"fill":{"signal":"datum.value === 'Recorded Rainfall (mm)' ? '#dddddd' : datum.value === 'No Data Periods (Rainfall)' ? '#3d7a57' : 'transparent'"}}}}}},
   "strokeDash":{"field":"depth","type":"nominal",
     "scale":{"domain":["5 cm depth","10 cm depth","20 cm Depth","50 cm Depth","70 cm Depth","Recorded Rainfall (mm)","No Data Periods (Rainfall)"],"range":[[1,0],[2,3],[10,5],[12,4,2,4,2,4],[22,10],[1,0],[1,0]]},
     "legend":{"title":null,"orient":"none","legendX":639,"legendY":527,"direction":"vertical","strokeColor":"#444444","padding":18,"symbolSize":400,"symbolStrokeWidth":2,"symbolOffset":15,"labelFont":"Liberation Sans","labelFontSize":22,"labelColor":"#333333","labelOffset":23,"rowPadding":6,"labelLimit":400,
      "encode":{"symbols":{"update":{"shape":{"signal":"indexof(['Recorded Rainfall (mm)','No Data Periods (Rainfall)'], datum.value) >= 0 ? 'M-2.5,-0.75H2.5V0.75H-2.5Z' : 'M-2.5,0H2.5'"},"fill":{"signal":"datum.value === 'Recorded Rainfall (mm)' ? '#dddddd' : datum.value === 'No Data Periods (Rainfall)' ? '#3d7a57' : 'transparent'"}}}}}},
   "detail":{"field":"seg","type":"nominal"}}},
 {"data":{"name":"notes"},"mark":{"type":"rule","color":"#333333","strokeWidth":2},
  "encoding":{"x":{"field":"t0","type":"temporal"},"x2":{"field":"t1"},"y":{"field":"v0","type":"quantitative"},"y2":{"field":"v1"}}},
 {"data":{"name":"notes"},"transform":[{"filter":"datum.label === 'Thaw'"}],"mark":{"type":"point","shape":"triangle-up","filled":true,"color":"#333333","opacity":1,"size":220,"angle":27},
  "encoding":{"x":{"field":"t1","type":"temporal"},"y":{"field":"v1","type":"quantitative"}}},
 {"data":{"name":"notes"},"transform":[{"filter":"datum.label === 'Freeze'"}],"mark":{"type":"point","shape":"triangle-up","filled":true,"color":"#333333","opacity":1,"size":220,"angle":-14.5},
  "encoding":{"x":{"field":"t1","type":"temporal"},"y":{"field":"v1","type":"quantitative"}}},
 {"data":{"name":"notes"},"mark":{"type":"text","font":"Liberation Serif","fontWeight":"bold","fontSize":29,"color":"#333333","align":"center","baseline":"middle"},
  "encoding":{"x":{"field":"tt","type":"temporal"},"y":{"field":"tv","type":"quantitative"},"text":{"field":"label"}}}
]},
{"data":{"name":"rain"},"mark":{"type":"rule","color":"#2e2e2e","strokeWidth":1.5},
 "encoding":{"x":{"field":"time","type":"temporal"},
  "y":{"field":"rain","type":"quantitative","scale":{"domain":[-0.5263,10],"reverse":true,"nice":false,"zero":false},
   "axis":{"orient":"right","title":"Recorded Rainfall (mm)","values":[0,2,4,6,8,10],"format":"d","tickSize":7,"labelPadding":18,"titlePadding":12,"titleAngle":270,"titleBaseline":"top","labelFlush":false,"labelOverlap":false}},
  "y2":{"datum":0}}}
],
"resolve":{"scale":{"y":"independent"}}
}
